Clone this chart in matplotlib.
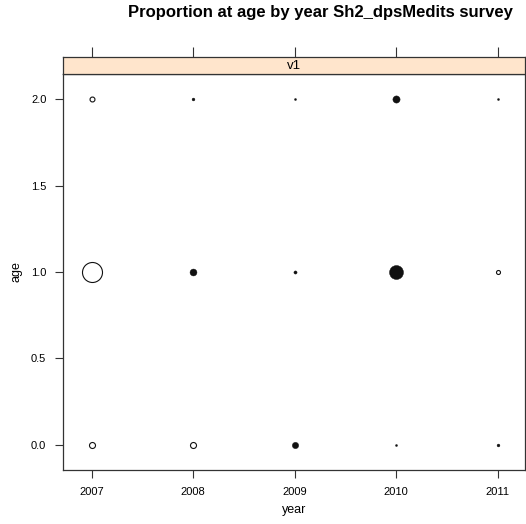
import numpy as np
import matplotlib
matplotlib.use("Agg")
import matplotlib.pyplot as plt

plt.rcParams['font.family'] = ['Liberation Sans', 'DejaVu Sans']

# Survey proportions at age (signed); open = positive, filled = negative
years = [2007, 2008, 2009, 2010, 2011]
ages = [0, 1, 2]
prop_age0 = [0.09, 0.09, -0.10, -0.01, -0.02]
prop_age1 = [1.00, -0.12, -0.025, -0.49, 0.04]
prop_age2 = [0.06, -0.02, -0.01, -0.13, -0.01]
x_ticks = [2007, 2008, 2009, 2010, 2011]
y_ticks = [0.0, 0.5, 1.0, 1.5, 2.0]
y_tick_labels = ["0.0", "0.5", "1.0", "1.5", "2.0"]
strip_label = "v1"
title = "Proportion at age by year Sh2_dpsMedits survey"

W, H = 526, 524
fig = plt.figure(figsize=(W / 100, H / 100), dpi=100)

left, right = 63 / W, 524.5 / W
bot, top = 1 - 470 / H, 1 - 74 / H
strip_top = 1 - 57 / H

frame_col = "#333333"
ax = fig.add_axes([left, bot, right - left, top - bot])
xlim = (2006.717, 2011.264)
ax.set_xlim(*xlim)
ax.set_ylim(-0.145, 2.145)

all_vals = np.array([prop_age0, prop_age1, prop_age2])
vmax = np.abs(all_vals).max()
max_diam_pt = 20 * 0.72
for age, row in zip(ages, [prop_age0, prop_age1, prop_age2]):
    for yr, v in zip(years, row):
        d = max_diam_pt * np.sqrt(abs(v) / vmax)
        if v >= 0:
            ax.plot(yr, age, 'o', ms=d, mfc='white', mec='#111111', mew=0.8)
        else:
            ax.plot(yr, age, 'o', ms=d, mfc='#111111', mec='#111111', mew=0.3)

ax.set_xticks(x_ticks)
ax.set_xticklabels([str(y) for y in x_ticks], fontsize=8)
ax.set_yticks(y_ticks)
ax.set_yticklabels(y_tick_labels, fontsize=8)
ax.tick_params(direction='out', length=6, width=0.8, color=frame_col, pad=6)
for s in ax.spines.values():
    s.set_color(frame_col)
    s.set_linewidth(0.9)
ax.set_xlabel("year", fontsize=9, labelpad=5)
ax.set_ylabel("age", fontsize=9, labelpad=6)

# Strip with the panel label and top tick marks
sax = fig.add_axes([left, top, right - left, strip_top - top])
sax.set_facecolor("#FFE5CC")
sax.set_xlim(*xlim)
sax.set_ylim(0, 1)
sax.set_xticks(x_ticks)
sax.set_xticklabels([])
sax.set_yticks([])
sax.xaxis.set_ticks_position('top')
sax.tick_params(direction='out', length=7, width=0.8, color=frame_col)
for s in sax.spines.values():
    s.set_color(frame_col)
    s.set_linewidth(0.9)
sax.text(0.5, 0.45, strip_label, transform=sax.transAxes, ha='center',
         va='center', fontsize=9.5)

fig.text(320 / W, 1 - 13 / H, title, ha='center', va='center',
         fontsize=12, fontweight='bold')

fig.savefig("out.png", dpi=100)
